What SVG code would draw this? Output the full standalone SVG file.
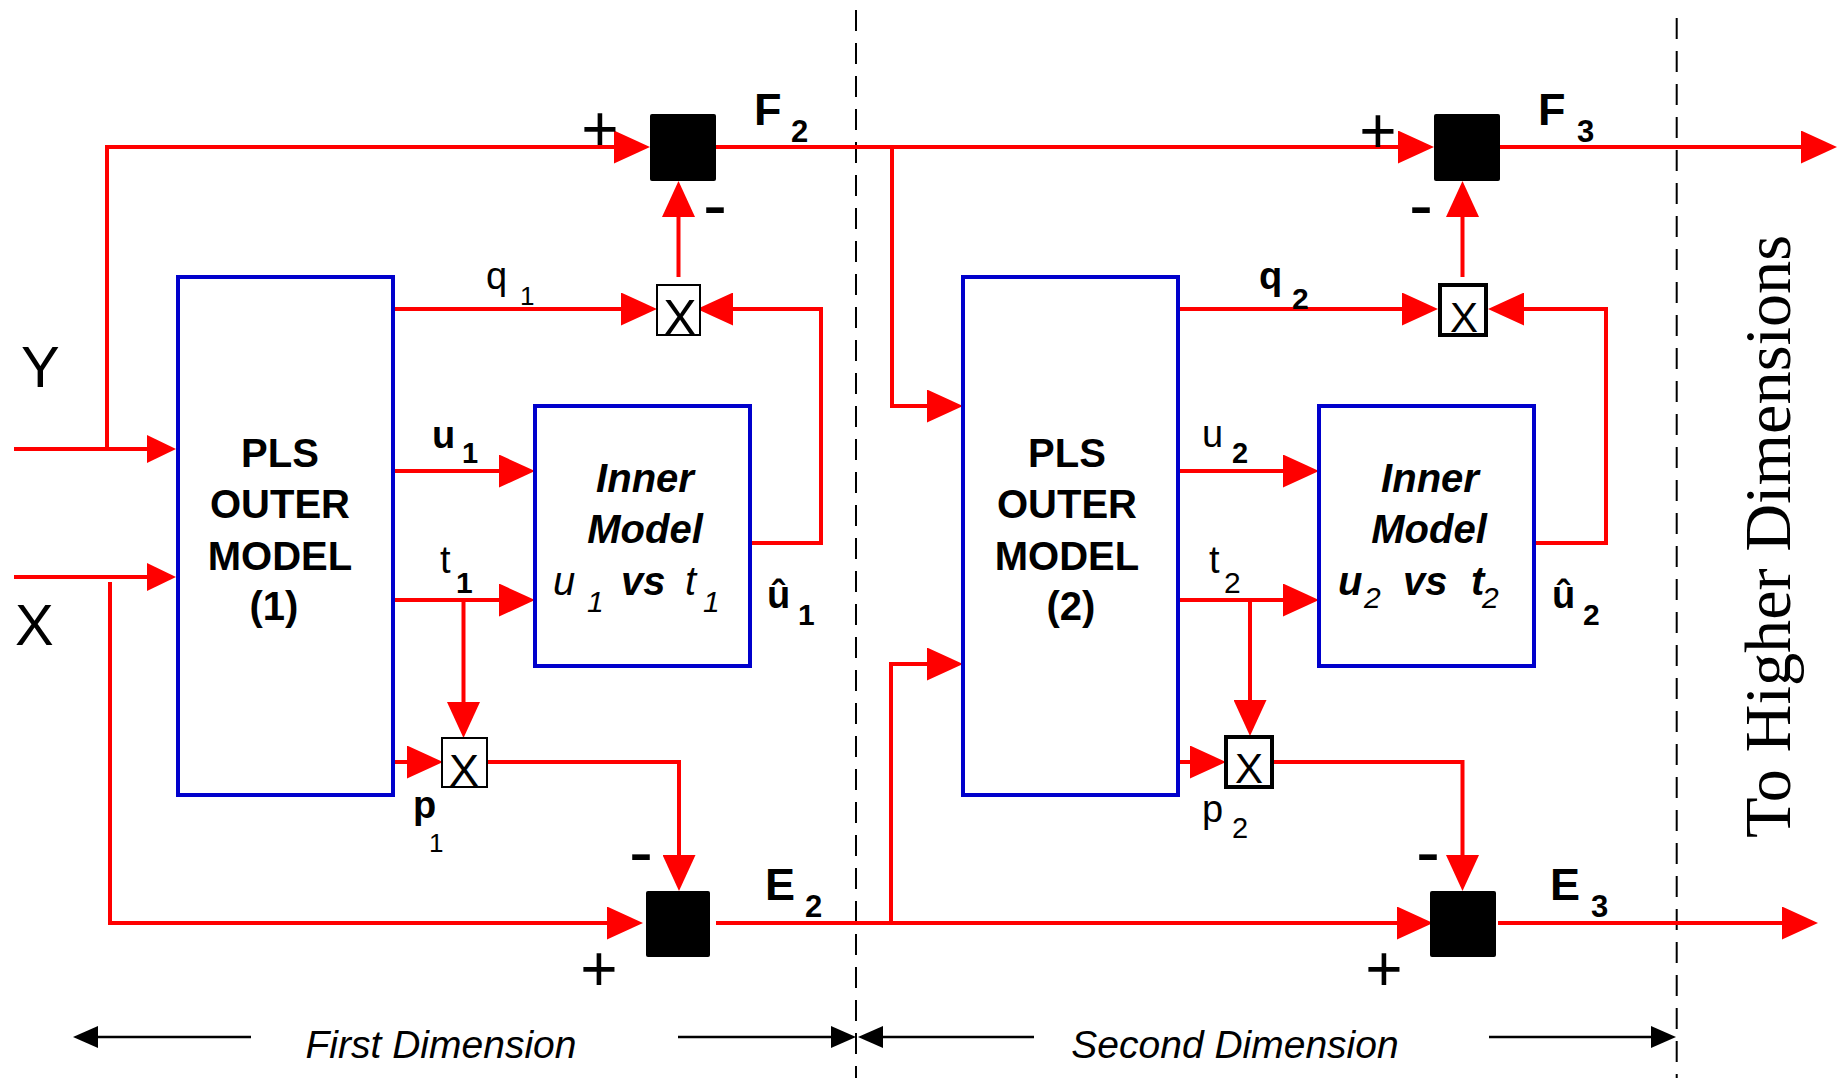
<svg xmlns="http://www.w3.org/2000/svg" width="1839" height="1078" viewBox="0 0 1839 1078">
<style>
.r{stroke:#ff0000;stroke-width:4;fill:none}
.rl{stroke:#ff0000;stroke-width:4;fill:none;marker-end:url(#ah)}
.rs{stroke:#ff0000;stroke-width:4;fill:none;marker-end:url(#ahs)}
.bl{stroke:#0000cc;stroke-width:4;fill:none}
.blk{fill:#000}
.xb{fill:#fff;stroke:#000;stroke-width:2}
.xb2{fill:#fff;stroke:#000;stroke-width:4}
.dash{stroke:#000;stroke-width:2;stroke-dasharray:21 12}
.ka{stroke:#000;stroke-width:2.5;fill:none;marker-end:url(#ahk)}
text{font-family:"Liberation Sans",Arial,sans-serif;fill:#000}
.pls{font-size:40px;font-weight:bold;text-anchor:middle}
.inn{font-size:40px;font-weight:bold;font-style:italic;text-anchor:middle}
.it{font-size:40px;font-style:italic}
.pm{font-size:64px;text-anchor:middle}
.mn{font-size:72px;text-anchor:middle}
.big{font-size:45px;font-weight:bold}
.lab{font-size:38px}
.xt{text-anchor:middle}
.dim{font-size:39px;font-style:italic;text-anchor:middle}
</style>
<defs>
<marker id="ah" viewBox="0 0 36 33" refX="0" refY="16.5" markerWidth="36" markerHeight="33" markerUnits="userSpaceOnUse" orient="auto"><path d="M0,0 L36,16.5 L0,33 Z" fill="#ff0000"/></marker>
<marker id="ahs" viewBox="0 0 29 28" refX="0" refY="14" markerWidth="29" markerHeight="28" markerUnits="userSpaceOnUse" orient="auto"><path d="M0,0 L29,14 L0,28 Z" fill="#ff0000"/></marker>
<marker id="ahk" viewBox="0 0 25 22" refX="0" refY="11" markerWidth="25" markerHeight="22" markerUnits="userSpaceOnUse" orient="auto"><path d="M0,0 L25,11 L0,22 Z" fill="#000"/></marker>
</defs>
<rect width="1839" height="1078" fill="#fff"/>

<g id="dividers">
<line class="dash" x1="856" y1="10" x2="856" y2="1078"/>
<line class="dash" x1="1676.7" y1="18" x2="1676.7" y2="1078"/>
</g>

<g id="connectors">
<path class="rl" d="M107 449 V147 H614"/>
<path class="rs" d="M14 449 H147"/>
<path class="rs" d="M14 577 H147"/>
<path class="rl" d="M110 582 V923 H607"/>
<path class="rl" d="M716 147 H1398"/>
<path class="rl" d="M892 147 V406 H927"/>
<path class="rl" d="M716 923 H1397"/>
<path class="rl" d="M891 923 V664 H927"/>
<path class="rl" d="M1500 147 H1801"/>
<path class="rl" d="M1498 923 H1782"/>
<path class="rl" d="M678.5 277 V217"/>
<path class="rl" d="M393 309 H621"/>
<path class="rl" d="M750 543 H821 V309 H733"/>
<path class="rl" d="M393 471 H499"/>
<path class="rl" d="M393 600 H499"/>
<path class="rl" d="M463.5 600 V702"/>
<path class="rl" d="M394 762 H407"/>
<path class="rl" d="M486 762 H679 V855"/>
<path class="rl" d="M1178 309 H1402"/>
<path class="rl" d="M1534 543 H1606 V309 H1524"/>
<path class="rl" d="M1178 471 H1283"/>
<path class="rl" d="M1178 600 H1283"/>
<path class="rl" d="M1250 600 V700"/>
<path class="rl" d="M1178 762 H1190"/>
<path class="rl" d="M1272 762 H1462.5 V855"/>
<path class="rl" d="M1462.5 277 V217"/>
</g>

<g id="PLS1">
<rect class="bl" x="178" y="277" width="215" height="518"/>
<text class="pls" x="280" y="467">PLS</text>
<text class="pls" x="280" y="518">OUTER</text>
<text class="pls" x="280" y="570">MODEL</text>
<text class="pls" x="274" y="620">(1)</text>
</g>
<g id="PLS2">
<rect class="bl" x="963" y="277" width="215" height="518"/>
<text class="pls" x="1067" y="467">PLS</text>
<text class="pls" x="1067" y="518">OUTER</text>
<text class="pls" x="1067" y="570">MODEL</text>
<text class="pls" x="1071" y="620">(2)</text>
</g>
<g id="inner1">
<rect class="bl" x="535" y="406" width="215" height="260"/>
<text class="inn" x="645" y="492">Inner</text>
<text class="inn" x="645" y="543">Model</text>
<text class="it" y="595"><tspan x="553">u</tspan><tspan x="587" y="612" font-size="30">1</tspan><tspan x="621" y="595" font-weight="bold">vs</tspan><tspan x="685" y="595">t</tspan><tspan x="703" y="612" font-size="30">1</tspan></text>
</g>
<g id="inner2">
<rect class="bl" x="1319" y="406" width="215" height="260"/>
<text class="inn" x="1430" y="492">Inner</text>
<text class="inn" x="1429" y="543">Model</text>
<text class="it" y="595"><tspan x="1338" font-weight="bold">u</tspan><tspan x="1364" y="608" font-size="30">2</tspan><tspan x="1403" y="595" font-weight="bold">vs</tspan><tspan x="1471" y="595" font-weight="bold">t</tspan><tspan x="1482" y="608" font-size="30">2</tspan></text>
</g>

<g id="sumF2">
<rect class="blk" x="650" y="114" width="66" height="67" rx="2"/>
<text class="pm" x="600" y="151">+</text>
<text class="mn" x="715" y="229">-</text>
<text class="big" x="754" y="125">F<tspan x="791" y="142" font-size="31">2</tspan></text>
</g>
<g id="sumF3">
<rect class="blk" x="1434" y="114" width="66" height="67" rx="2"/>
<text class="pm" x="1378" y="153">+</text>
<text class="mn" x="1421" y="229">-</text>
<text class="big" x="1538" y="125">F<tspan x="1577" y="142" font-size="31">3</tspan></text>
</g>
<g id="sumE2">
<rect class="blk" x="646" y="891" width="64" height="66" rx="2"/>
<text class="pm" x="599" y="991">+</text>
<text class="mn" x="641" y="876">-</text>
<text class="big" x="765" y="900">E<tspan x="805" y="917" font-size="31">2</tspan></text>
</g>
<g id="sumE3">
<rect class="blk" x="1430" y="891" width="66" height="66" rx="2"/>
<text class="pm" x="1384" y="991">+</text>
<text class="mn" x="1428" y="876">-</text>
<text class="big" x="1550" y="900">E<tspan x="1591" y="917" font-size="31">3</tspan></text>
</g>

<g id="mult1">
<rect class="xb" x="657" y="285" width="43" height="50"/>
<text class="xt" x="680" y="335" font-size="50">X</text>
</g>
<g id="mult2">
<rect class="xb" x="442" y="738" width="45" height="49"/>
<text class="xt" x="464" y="786" font-size="45">X</text>
</g>
<g id="mult3">
<rect class="xb2" x="1440" y="285" width="46" height="50"/>
<text class="xt" x="1464" y="332" font-size="42">X</text>
</g>
<g id="mult4">
<rect class="xb2" x="1226" y="737" width="46" height="50"/>
<text class="xt" x="1249" y="783" font-size="42">X</text>
</g>

<g id="labels">
<text x="21" y="387" font-size="58">Y</text>
<text x="15" y="645" font-size="58">X</text>
<text class="lab" x="486" y="289">q<tspan x="520" y="305" font-size="26">1</tspan></text>
<text class="lab" x="432" y="448" font-weight="bold">u<tspan x="462" y="463" font-size="29">1</tspan></text>
<text class="lab" x="440" y="573" font-size="36">t<tspan x="456" y="593" font-size="30" font-weight="bold">1</tspan></text>
<text class="lab" x="413" y="818" font-weight="bold">p<tspan x="429" y="852" font-size="26" font-weight="normal">1</tspan></text>
<text class="lab" x="767" y="608" font-weight="bold">û<tspan x="798" y="625" font-size="30">1</tspan></text>
<text class="lab" x="1259" y="289" font-weight="bold">q<tspan x="1292" y="309" font-size="30">2</tspan></text>
<text class="lab" x="1202" y="447">u<tspan x="1232" y="463" font-size="29" font-weight="bold">2</tspan></text>
<text class="lab" x="1209" y="573" font-size="36">t<tspan x="1224" y="593" font-size="30">2</tspan></text>
<text class="lab" x="1202" y="822">p<tspan x="1232" y="838" font-size="29">2</tspan></text>
<text class="lab" x="1552" y="608" font-weight="bold">û<tspan x="1583" y="625" font-size="30">2</tspan></text>
<text transform="translate(1790,838) rotate(-90)" font-size="65" textLength="603" lengthAdjust="spacingAndGlyphs" style="font-family:'Liberation Serif','Times New Roman',serif">To Higher Dimensions</text>
</g>

<g id="dimensions">
<path class="ka" d="M251 1037 H98"/>
<path class="ka" d="M678 1037 H831"/>
<path class="ka" d="M1034 1037 H883"/>
<path class="ka" d="M1489 1037 H1651"/>
<text class="dim" x="441" y="1058">First Dimension</text>
<text class="dim" x="1235" y="1058">Second Dimension</text>
</g>
</svg>
